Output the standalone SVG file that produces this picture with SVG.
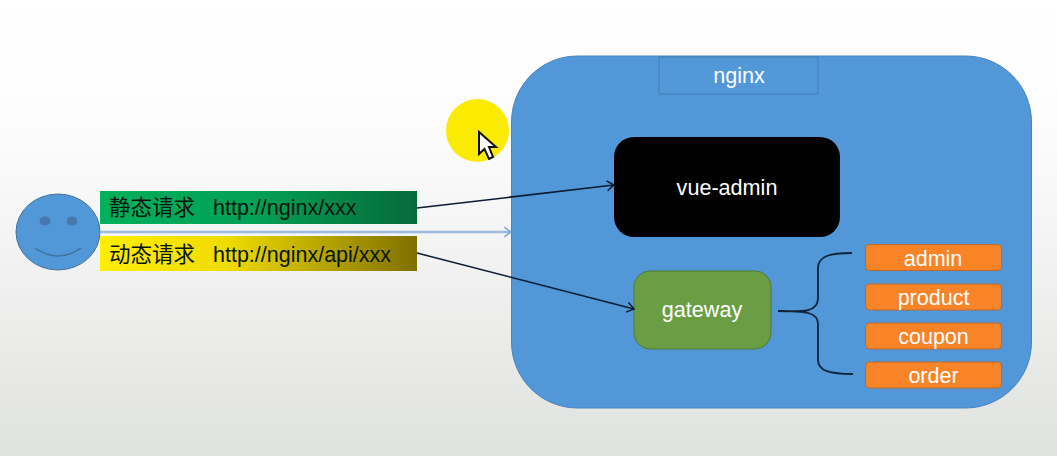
<svg xmlns="http://www.w3.org/2000/svg" width="1057" height="456" viewBox="0 0 1057 456">
<style>
text{font-family:"Liberation Sans","Noto Sans CJK SC",sans-serif}
.w{fill:#fff;text-anchor:middle;font-size:21.600px}
.o rect{fill:#f98327;stroke:#bb6a2c;stroke-width:1}
.o text{fill:#fff;font-size:21.500px;text-anchor:middle}
.k{fill:#08140c;font-size:21.500px}
.c{fill:none;stroke:#0a1a30;stroke-width:1.500}
</style>
<defs>
<linearGradient id="bg" x1="0" y1="0" x2="0" y2="1"><stop offset="0" stop-color="#fff"/><stop offset=".25" stop-color="#fdfdfd"/><stop offset=".5" stop-color="#f4f5f4"/><stop offset="1" stop-color="#e0e2df"/></linearGradient>
<linearGradient id="g1"><stop offset="0" stop-color="#00b05a"/><stop offset=".5" stop-color="#03a055"/><stop offset="1" stop-color="#066a3a"/></linearGradient>
<linearGradient id="g2"><stop offset="0" stop-color="#ffee00"/><stop offset=".4" stop-color="#efdc00"/><stop offset="1" stop-color="#7f7000"/></linearGradient>
<marker id="a" markerWidth="11" markerHeight="12" refX="9" refY="6" orient="auto" markerUnits="userSpaceOnUse"><path d="M2 1L9 6L2 11" fill="none" stroke="#0a1a30" stroke-width="1.500"/></marker>
<marker id="b" markerWidth="11" markerHeight="12" refX="9" refY="6" orient="auto" markerUnits="userSpaceOnUse"><path d="M2 1L9 6L2 11" fill="none" stroke="#7fa8d4" stroke-width="1.500"/></marker>
</defs>
<rect width="1057" height="456" fill="url(#bg)"/>
<g id="nginx">
<rect x="511.500" y="56" width="520" height="352" rx="66" fill="#5297d7" stroke="#4a85bb"/>
<rect x="659" y="57" width="159" height="37" fill="#5297d7" stroke="#3f77ab" stroke-width=".8"/>
<text class="w" x="739" y="83">nginx</text>
</g>
<g id="pointer">
<circle cx="477.500" cy="130.500" r="31.500" fill="#fbeb00"/>
<path d="M479 132V154L484.500 149L489 159L493 157L489 147L496 147Z" fill="#fff" stroke="#111" stroke-width="2"/>
</g>
<g id="user">
<ellipse cx="58" cy="232" rx="42" ry="38" fill="#5297d7" stroke="#41719c"/>
<ellipse cx="45" cy="221" rx="5.500" ry="4.500" fill="#4678ab"/>
<ellipse cx="72" cy="221" rx="5.500" ry="4.500" fill="#4678ab"/>
<path d="M35 248Q58 264 81 248" fill="none" stroke="#41719c" stroke-width="1.500"/>
</g>
<g id="static-request">
<rect x="100" y="191" width="317" height="33" fill="url(#g1)"/>
<text class="k" x="109" y="215">静态请求</text>
<text class="k" x="213" y="215">http://nginx/xxx</text>
</g>
<g id="dynamic-request">
<rect x="100" y="236" width="317" height="35" fill="url(#g2)"/>
<text class="k" x="109" y="262">动态请求</text>
<text class="k" x="213" y="262">http://nginx/api/xxx</text>
</g>
<g id="vue-admin">
<rect x="614" y="137" width="226" height="100" rx="20" fill="#000"/>
<text class="w" x="727" y="195">vue-admin</text>
</g>
<g id="gateway">
<rect x="634" y="271" width="137" height="78" rx="16" fill="#6b9e44" stroke="#507a30"/>
<text class="w" x="702" y="317">gateway</text>
</g>
<g id="admin" class="o"><rect x="865.500" y="244.500" width="136" height="26" rx="4"/><text x="933" y="266">admin</text></g>
<g id="product" class="o"><rect x="865.500" y="284" width="136" height="26" rx="4"/><text x="933.500" y="305">product</text></g>
<g id="coupon" class="o"><rect x="865.500" y="323" width="136" height="26" rx="4"/><text x="933.500" y="344">coupon</text></g>
<g id="order" class="o"><rect x="865.500" y="362" width="136" height="26" rx="4"/><text x="933.500" y="382.500">order</text></g>
<g id="connectors">
<path d="M100 232H511" fill="none" stroke="#9dbbdc" stroke-width="2.400" marker-end="url(#b)"/>
<path class="c" d="M417 208L614 185" marker-end="url(#a)"/>
<path class="c" d="M417 253L634 309" marker-end="url(#a)"/>
<path d="M778 311C805 312 818 312 818 298V268C818 256 830 253 852 253M778 311C805 311 818 312 818 324V360C818 371 830 374 853 374" fill="none" stroke="#0f2438" stroke-width="1.800"/>
</g>
</svg>
